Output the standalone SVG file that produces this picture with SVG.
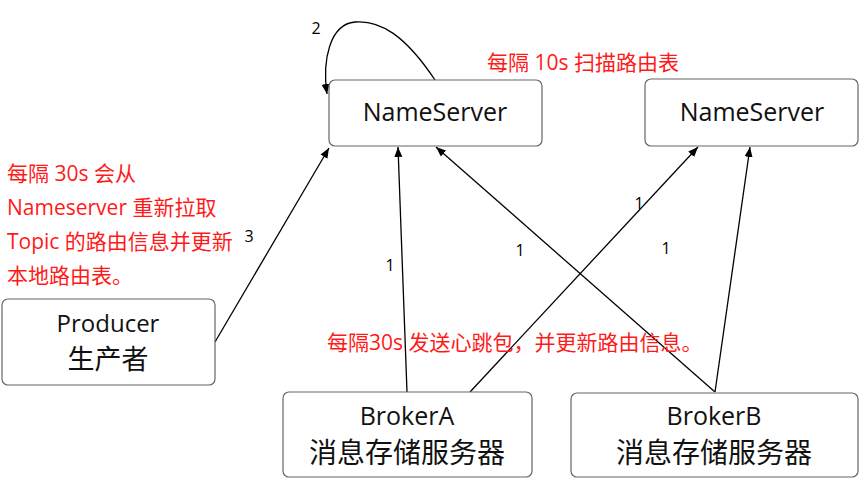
<svg xmlns="http://www.w3.org/2000/svg" width="864" height="479" viewBox="0 0 864 479">
<style>
.box{fill:#fff;stroke:#666;stroke-width:1.2}
.lbl{font-family:"Open Sans","Noto Sans","Noto Sans CJK SC",sans-serif;fill:#111;text-anchor:middle}
.cjk{font-family:"Noto Sans CJK SC",sans-serif;fill:#111;text-anchor:middle}
.red{font-family:"Open Sans","Noto Sans CJK SC",sans-serif;fill:#ff1a1a;font-size:21px}
.num{font-family:"Open Sans","Noto Sans",sans-serif;fill:#000;font-size:16px;text-anchor:middle}
.con{fill:none;stroke:#000;stroke-width:1.3;marker-end:url(#arr)}
</style>
<defs>
<marker id="arr" viewBox="0 0 10 10" refX="10" refY="5" markerWidth="10" markerHeight="10" markerUnits="userSpaceOnUse" orient="auto">
<path d="M0,1 L10,5 L0,9 Z" fill="#000"/>
</marker>
</defs>
<rect width="864" height="479" fill="#fff"/>
<g id="connectors">
<path class="con" d="M435,80 C405,35 380,20 355,22 C330,24 322,60 327,94"/>
<path class="con" d="M215,342 L329,148"/>
<path class="con" d="M407,392 L398,147"/>
<path class="con" d="M470,392 L698,147"/>
<path class="con" d="M715,392 L436,147"/>
<path class="con" d="M715,392 L750,147"/>
</g>
<g id="conn-labels">
<text class="num" x="316" y="34">2</text>
<text class="num" x="249" y="242">3</text>
<text class="num" x="390" y="271">1</text>
<text class="num" x="520" y="256">1</text>
<text class="num" x="639" y="209">1</text>
<text class="num" x="666" y="254">1</text>
</g>
<g id="ns1">
<rect class="box" x="329" y="80" width="213" height="66" rx="6"/>
<text class="lbl" x="435" y="121" font-size="25">NameServer</text>
</g>
<g id="ns2">
<rect class="box" x="645" y="79" width="213" height="67" rx="6"/>
<text class="lbl" x="752" y="121" font-size="25">NameServer</text>
</g>
<g id="producer">
<rect class="box" x="2" y="299" width="213" height="86" rx="6"/>
<text class="lbl" x="108" y="332" font-size="24">Producer</text>
<text class="cjk" x="108" y="369" font-size="27">生产者</text>
</g>
<g id="brokerA">
<rect class="box" x="283" y="392" width="249" height="85" rx="6"/>
<text class="lbl" x="407" y="425" font-size="25">BrokerA</text>
<text class="cjk" x="407" y="463" font-size="28">消息存储服务器</text>
</g>
<g id="brokerB">
<rect class="box" x="571" y="393" width="287" height="84" rx="6"/>
<text class="lbl" x="714" y="425" font-size="25">BrokerB</text>
<text class="cjk" x="714" y="463" font-size="28">消息存储服务器</text>
</g>
<g id="notes">
<text class="red" x="487" y="70">每隔 10s 扫描路由表</text>
<text class="red" x="7" y="181">每隔 30s 会从</text>
<text class="red" x="7" y="215">Nameserver 重新拉取</text>
<text class="red" x="7" y="249">Topic 的路由信息并更新</text>
<text class="red" x="7" y="283">本地路由表。</text>
<text class="red" x="327" y="350">每隔30s 发送心跳包，并更新路由信息。</text>
</g>
</svg>
